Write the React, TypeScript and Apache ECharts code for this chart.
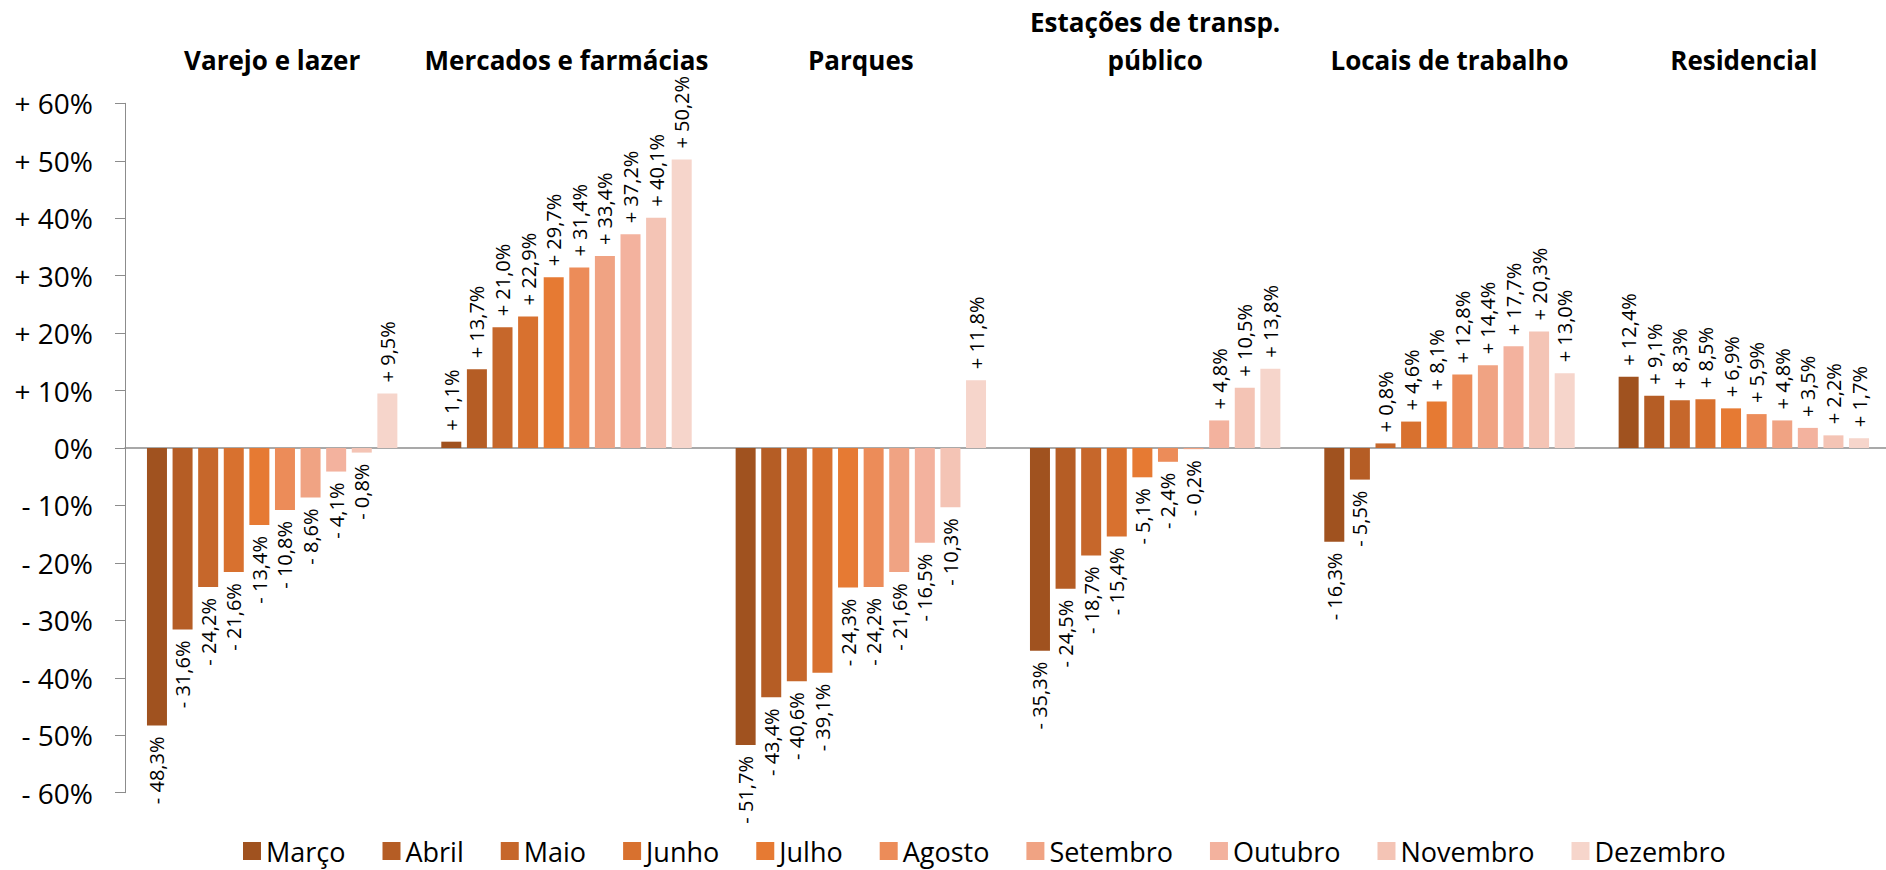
import React, { useEffect, useRef } from "react";
import * as echarts from "echarts";

const categories = [
  "Varejo e lazer",
  "Mercados e farmácias",
  "Parques",
  "Estações de transp.\npúblico",
  "Locais de trabalho",
  "Residencial",
];

const months = ["Março", "Abril", "Maio", "Junho", "Julho", "Agosto", "Setembro", "Outubro", "Novembro", "Dezembro"];

const colors = ["#A0521F", "#B55D25", "#C6672B", "#D8712F", "#E67A33", "#EC8C59", "#F0A383", "#F3B29E", "#F4C4B5", "#F6D5CB"];

// values per month, in the order of categories
const marco = [-48.3, 1.1, -51.7, -35.3, -16.3, 12.4];
const abril = [-31.6, 13.7, -43.4, -24.5, -5.5, 9.1];
const maio = [-24.2, 21.0, -40.6, -18.7, 0.8, 8.3];
const junho = [-21.6, 22.9, -39.1, -15.4, 4.6, 8.5];
const julho = [-13.4, 29.7, -24.3, -5.1, 8.1, 6.9];
const agosto = [-10.8, 31.4, -24.2, -2.4, 12.8, 5.9];
const setembro = [-8.6, 33.4, -21.6, -0.2, 14.4, 4.8];
const outubro = [-4.1, 37.2, -16.5, 4.8, 17.7, 3.5];
const novembro = [-0.8, 40.1, -10.3, 10.5, 20.3, 2.2];
const dezembro = [9.5, 50.2, 11.8, 13.8, 13.0, 1.7];

const seriesValues = [marco, abril, maio, junho, julho, agosto, setembro, outubro, novembro, dezembro];

const yMin = -60;
const yMax = 60;
const yInterval = 10;

const FONT = "'Open Sans', 'Noto Sans', sans-serif";

const fmtValue = (v: number) =>
  (v >= 0 ? "+ " : "- ") + Math.abs(v).toFixed(1).replace(".", ",") + "%";

const fmtAxis = (v: number) => (v === 0 ? "0%" : (v > 0 ? "+ " : "- ") + Math.abs(v) + "%");

export default function App() {
  const ref = useRef<HTMLDivElement>(null);

  useEffect(() => {
    if (!ref.current) return;
    const chart = echarts.init(ref.current, undefined, { renderer: "svg" });

    const series = months.map((m, i) => ({
      name: m,
      type: "bar",
      xAxisIndex: 0,
      barWidth: 20,
      barGap: "28%",
      itemStyle: { color: colors[i] },
      data: seriesValues[i].map((v) => ({
        value: v,
        label: {
          align: v >= 0 ? "left" : "right",
        },
      })),
      label: {
        show: true,
        position: "outside",
        rotate: 90,
        verticalAlign: "middle",
        distance: 11,
        fontFamily: FONT,
        fontSize: 20,
        color: "#000",
        formatter: (p: any) => fmtValue(p.value),
      },
    }));

    chart.setOption({
      animation: false,
      backgroundColor: "#fff",
      grid: {
        left: 125,
        top: 103.3,
        width: 1766,
        height: 689.4,
        containLabel: false,
        outerBoundsMode: "none",
      },
      legend: {
        data: months,
        left: 238,
        top: 830,
        icon: "rect",
        itemWidth: 18,
        itemHeight: 18,
        itemGap: 37,
        textStyle: { fontFamily: FONT, fontSize: 27, color: "#000", lineHeight: 32 },
      },
      xAxis: [
        {
          type: "category",
          data: categories,
          axisLine: { onZero: true, lineStyle: { color: "#8C8C8C", width: 1.5 } },
          axisTick: { show: false },
          axisLabel: { show: false },
          splitLine: { show: false },
        },
        {
          type: "category",
          data: categories,
          position: "top",
          axisLine: { show: false },
          axisTick: { show: false },
          axisLabel: {
            show: true,
            interval: 0,
            margin: 24,
            fontFamily: FONT,
            fontSize: 26,
            fontWeight: "bold",
            lineHeight: 38,
            color: "#000",
          },
          splitLine: { show: false },
        },
      ],
      yAxis: {
        type: "value",
        min: yMin,
        max: yMax,
        interval: yInterval,
        axisLine: { show: true, lineStyle: { color: "#8C8C8C", width: 1 } },
        axisTick: { show: true, length: 10, lineStyle: { color: "#8C8C8C" } },
        splitLine: { show: false },
        axisLabel: {
          margin: 32,
          fontFamily: FONT,
          fontSize: 28,
          color: "#000",
          formatter: fmtAxis,
        },
      },
      series,
    });

    return () => chart.dispose();
  }, []);

  return (
    <div
      ref={ref}
      style={{ position: "absolute", left: 0, top: 0, width: 1886, height: 870 }}
    />
  );
}
